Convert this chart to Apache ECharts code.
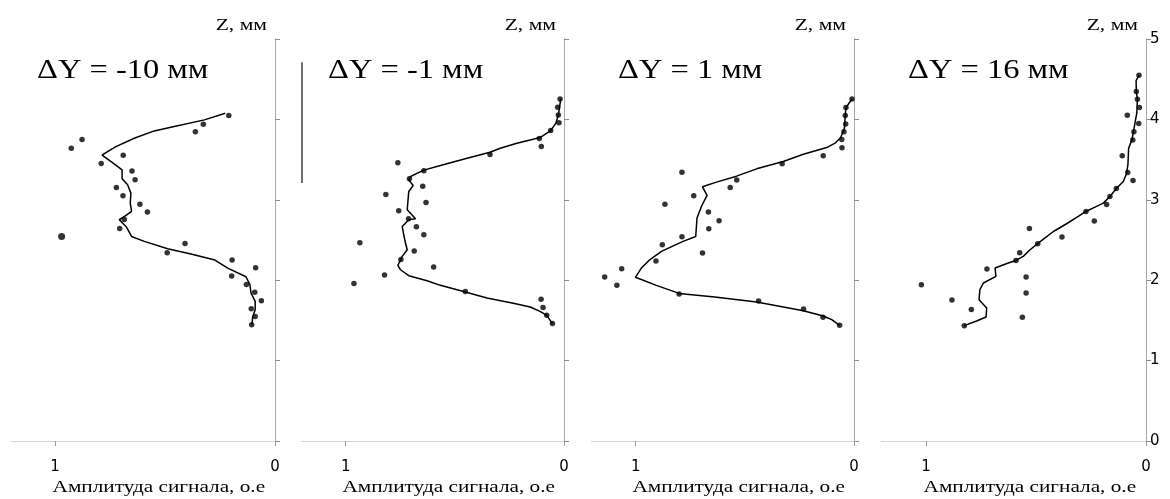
<!DOCTYPE html>
<html><head><meta charset="utf-8">
<script src="https://cdn.jsdelivr.net/npm/echarts@6/dist/echarts.min.js"></script>
<style>html,body{margin:0;padding:0;background:#fff}#c{width:1170px;height:499px}</style>
</head><body><div id="c"></div>
<script>
// ---- data ----
const panelLabels = ['ΔY = -10 мм', 'ΔY = -1 мм', 'ΔY = 1 мм', 'ΔY = 16 мм'];
const zAxisName = 'Z, мм';
const ampAxisName = 'Амплитуда сигнала, о.е';
const ampTickValues = [0, 1];
const zTickValues = [0, 1, 2, 3, 4, 5];

// panel 1: ΔY = -10 мм
const p1PointAmp = [0.21,0.326,0.362,0.877,0.926,0.69,0.79,0.65,0.636,0.721,0.691,0.614,0.58,0.685,0.706,0.97,0.409,0.49,0.195,0.088,0.197,0.13,0.092,0.062,0.108,0.09,0.106];
const p1PointZ   = [4.05,3.94,3.845,3.75,3.64,3.555,3.45,3.357,3.25,3.153,3.05,2.946,2.847,2.756,2.644,2.544,2.457,2.342,2.25,2.155,2.052,1.948,1.849,1.745,1.646,1.55,1.447];
const p1LineAmp  = [0.226,0.321,0.458,0.549,0.64,0.723,0.761,0.786,0.745,0.695,0.695,0.67,0.655,0.658,0.652,0.677,0.708,0.677,0.652,0.594,0.488,0.382,0.273,0.215,0.132,0.114,0.109,0.09,0.09,0.101,0.105];
const p1LineZ    = [4.077,3.994,3.911,3.857,3.766,3.662,3.6,3.555,3.476,3.373,3.261,3.186,3.083,2.959,2.855,2.805,2.752,2.669,2.544,2.483,2.392,2.325,2.25,2.15,2.043,1.944,1.841,1.737,1.634,1.55,1.447];

// panel 2: ΔY = -1 мм
const p2PointAmp = [0.018,0.029,0.026,0.023,0.061,0.113,0.104,0.339,0.761,0.642,0.708,0.647,0.816,0.632,0.757,0.712,0.676,0.642,0.935,0.686,0.747,0.597,0.822,0.962,0.452,0.105,0.096,0.079,0.053];
const p2PointZ   = [4.254,4.151,4.056,3.957,3.861,3.762,3.662,3.563,3.46,3.36,3.261,3.17,3.066,2.967,2.863,2.764,2.665,2.565,2.466,2.362,2.259,2.164,2.064,1.96,1.861,1.762,1.662,1.563,1.46];
const p2LineAmp  = [0.015,0.021,0.026,0.037,0.061,0.11,0.155,0.216,0.292,0.339,0.444,0.566,0.642,0.703,0.711,0.691,0.711,0.715,0.718,0.68,0.711,0.741,0.734,0.726,0.718,0.741,0.761,0.749,0.711,0.627,0.566,0.452,0.353,0.232,0.155,0.11,0.079,0.053];
const p2LineZ    = [4.254,4.139,4.056,3.953,3.861,3.774,3.745,3.704,3.642,3.592,3.518,3.426,3.369,3.29,3.248,3.178,3.103,2.979,2.876,2.764,2.752,2.669,2.565,2.462,2.379,2.296,2.184,2.13,2.056,1.994,1.936,1.853,1.779,1.713,1.667,1.612,1.563,1.46];
const p2EdgeBarZ = [4.71, 3.21];

// panel 3: ΔY = 1 мм
const p3PointAmp = [0.009,0.037,0.04,0.038,0.046,0.056,0.055,0.141,0.329,0.788,0.537,0.567,0.734,0.866,0.667,0.618,0.665,0.788,0.878,0.694,0.907,1.064,1.142,1.086,0.801,0.437,0.231,0.142,0.066];
const p3PointZ   = [4.254,4.147,4.048,3.944,3.845,3.749,3.646,3.547,3.447,3.344,3.245,3.153,3.05,2.946,2.847,2.739,2.64,2.54,2.441,2.338,2.238,2.143,2.04,1.936,1.828,1.741,1.642,1.538,1.439];
const p3LineAmp  = [0.009,0.026,0.037,0.04,0.044,0.061,0.087,0.125,0.232,0.324,0.446,0.538,0.63,0.694,0.673,0.699,0.719,0.725,0.783,0.882,0.939,0.974,1.001,0.905,0.801,0.638,0.446,0.232,0.141,0.102,0.066];
const p3LineZ    = [4.254,4.189,4.147,4.048,3.89,3.774,3.704,3.65,3.567,3.476,3.385,3.294,3.22,3.162,3.054,2.917,2.773,2.544,2.483,2.358,2.246,2.151,2.036,1.936,1.836,1.791,1.729,1.621,1.555,1.509,1.439];

// panel 4: ΔY = 16 мм
const p4PointAmp = [0.032,0.044,0.039,0.03,0.085,0.033,0.055,0.06,0.108,0.083,0.059,0.135,0.164,0.179,0.273,0.235,0.53,0.382,0.492,0.574,0.591,0.723,0.545,1.021,0.545,0.882,0.794,0.562,0.826];
const p4PointZ   = [4.549,4.346,4.251,4.147,4.052,3.948,3.845,3.745,3.547,3.339,3.24,3.141,3.041,2.942,2.855,2.735,2.644,2.536,2.453,2.342,2.246,2.139,2.04,1.944,1.841,1.754,1.637,1.538,1.435];
const p4LineAmp  = [0.032,0.045,0.044,0.039,0.042,0.053,0.064,0.079,0.082,0.088,0.103,0.135,0.164,0.194,0.232,0.273,0.308,0.361,0.421,0.49,0.527,0.558,0.591,0.626,0.686,0.682,0.739,0.755,0.759,0.724,0.727,0.77,0.826];
const p4LineZ    = [4.549,4.482,4.346,4.251,4.077,3.911,3.745,3.642,3.443,3.331,3.227,3.141,3.041,2.959,2.909,2.855,2.793,2.702,2.606,2.462,2.379,2.296,2.246,2.213,2.151,2.048,1.965,1.882,1.758,1.654,1.543,1.493,1.435];

const panels = [
  {pa: p1PointAmp, pz: p1PointZ, la: p1LineAmp, lz: p1LineZ},
  {pa: p2PointAmp, pz: p2PointZ, la: p2LineAmp, lz: p2LineZ},
  {pa: p3PointAmp, pz: p3PointZ, la: p3LineAmp, lz: p3LineZ},
  {pa: p4PointAmp, pz: p4PointZ, la: p4LineAmp, lz: p4LineZ}
];

// ---- layout ----
const gridBoxes = [
  {left: 11, width: 264}, {left: 302, width: 262}, {left: 592, width: 262}, {left: 882, width: 264}
];
const gridTop = 39, gridHeight = 402;
const serif = '"Liberation Serif", "Times New Roman", serif';
const sans = '"DejaVu Sans", Arial, sans-serif';

const grid = [], xAxis = [], yAxis = [], series = [], graphic = [];
const zip = (a, b) => a.map((v, i) => [v, b[i]]);

gridBoxes.forEach((g, i) => {
  grid.push({left: g.left, width: g.width, top: gridTop, height: gridHeight, containLabel: false});
  // bottom amplitude axis
  xAxis.push({
    type: 'value', gridIndex: i, position: 'bottom', inverse: true, min: 0, max: 1.2, interval: 1,
    axisLine: {show: i !== 0, lineStyle: {color: '#8c8c8c', width: 1}},
    axisTick: {show: true, length: 5, inside: false, customValues: ampTickValues, lineStyle: {color: '#9a9a9a'}},
    axisLabel: {show: true, customValues: ampTickValues, margin: 19, fontFamily: sans, fontSize: 15, color: '#000'},
    splitLine: {show: false}
  });
  // top frame line
  xAxis.push({
    type: 'value', gridIndex: i, position: 'top', inverse: true, min: 0, max: 1.2,
    axisLine: {show: true, lineStyle: {color: '#d4d4d4'}}, axisTick: {show: false}, axisLabel: {show: false}, splitLine: {show: false}
  });
  // right Z axis
  yAxis.push({
    type: 'value', gridIndex: i, position: 'right', min: 0, max: 5, interval: 1,
    axisLine: {show: true, lineStyle: {color: '#8c8c8c'}},
    axisTick: {show: true, length: 5, inside: false, customValues: zTickValues, lineStyle: {color: '#8c8c8c'}},
    axisLabel: {show: i === 3, customValues: zTickValues, margin: 4, fontFamily: sans, fontSize: 15, color: '#000'},
    splitLine: {show: false}
  });
  // left frame line
  yAxis.push({
    type: 'value', gridIndex: i, position: 'left', min: 0, max: 5,
    axisLine: {show: true, lineStyle: {color: '#a8a8a8'}}, axisTick: {show: false}, axisLabel: {show: false}, splitLine: {show: false}
  });

  const p = panels[i];
  series.push({
    type: 'line', xAxisIndex: 2 * i, yAxisIndex: 2 * i, data: zip(p.la, p.lz),
    showSymbol: false, symbol: 'none', lineStyle: {color: '#000', width: 1.5}, z: 3, silent: true, animation: false
  });
  const scatter = {
    type: 'scatter', xAxisIndex: 2 * i, yAxisIndex: 2 * i, data: zip(p.pa, p.pz),
    symbol: 'circle', symbolSize: (v, params) => (i === 0 && params.dataIndex === 15 ? 7 : 5.5),
    itemStyle: {color: '#000'}, z: 4, silent: true, animation: false
  };
  if (i === 1) {
    scatter.markLine = {
      silent: true, symbol: 'none', label: {show: false},
      lineStyle: {color: '#6e6e6e', width: 2, type: 'solid'},
      data: [[{coord: [1.2, p2EdgeBarZ[0]]}, {coord: [1.2, p2EdgeBarZ[1]]}]]
    };
  }
  series.push(scatter);

  const right = g.left + g.width;
  graphic.push({
    type: 'text', x: g.left + 26, y: 71, scaleX: 1.16, silent: true,
    style: {text: panelLabels[i], font: '28px ' + serif, fill: '#000', textAlign: 'left', textVerticalAlign: 'middle'}
  });
  graphic.push({
    type: 'text', x: right - 8, y: 26, scaleX: 1.35, silent: true,
    style: {text: zAxisName, font: '16px ' + serif, fill: '#000', textAlign: 'right', textVerticalAlign: 'middle'}
  });
  graphic.push({
    type: 'text', x: g.left + g.width * 0.56, y: 488, scaleX: 1.25, silent: true,
    style: {text: ampAxisName, font: '17px ' + serif, fill: '#000', textAlign: 'center', textVerticalAlign: 'middle'}
  });
});

const chart = echarts.init(document.getElementById('c'), null, {renderer: 'canvas'});
chart.setOption({
  backgroundColor: '#fff', animation: false,
  grid, xAxis, yAxis, series, graphic
});
</script></body></html>
